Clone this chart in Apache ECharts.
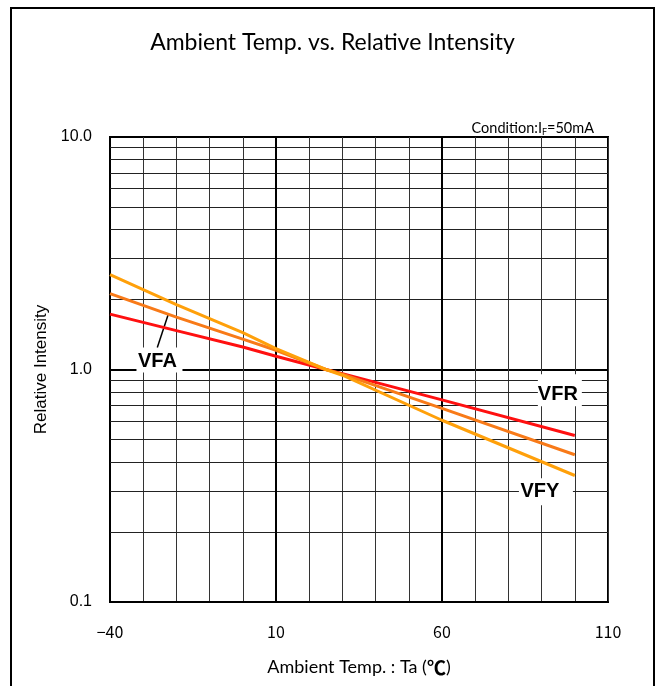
<!DOCTYPE html>
<html>
<head>
<meta charset="utf-8">
<script src="https://cdn.jsdelivr.net/npm/echarts@6/dist/echarts.min.js"></script>
<style>
  html, body { margin: 0; padding: 0; background: #fff; }
  #main { width: 665px; height: 686px; }
</style>
</head>
<body>
<div id="main"></div>
<script>
// temperatures (deg C)
var temps = [-40, -20, 0, 10, 25, 30, 60, 100];
var vfr = [1.73, 1.47, 1.25, 1.14, 1.0, 0.96, 0.74, 0.52]; // red
var vfa = [2.12, 1.68, 1.35, 1.21, 1.0, 0.955, 0.68, 0.43]; // orange
var vfy = [2.56, 1.90, 1.44, 1.23, 1.0, 0.945, 0.605, 0.35]; // yellow
// log grid lines between decades
var minorY = [0.2, 0.3, 0.4, 0.5, 0.6, 0.7, 0.8, 0.9, 2, 3, 4, 5, 6, 7, 8, 9];
var majorX = [10, 60];

function pairs(ys) {
  return temps.map(function (t, i) { return [t, ys[i]]; });
}

var chart = echarts.init(document.getElementById('main'));

var labelStyle = {
  show: true,
  position: 'inside',
  color: '#000',
  fontFamily: 'Liberation Sans',
  fontWeight: 'bold',
  fontSize: 20
};

var option = {
  backgroundColor: '#fff',
  animation: false,
  title: [{
    text: 'Ambient Temp. vs. Relative Intensity',
    left: 'center',
    top: 26,
    textStyle: { fontFamily: 'Lato', fontWeight: 'normal', fontSize: 23, color: '#000' }
  }, {
    text: '{a|Condition:I}{s|F}{a|=50mA}',
    right: 66,
    top: 114,
    textStyle: {
      fontWeight: 'normal',
      rich: {
        a: { fontFamily: 'Lato', fontSize: 14.5, fontWeight: 'normal', color: '#000' },
        s: { fontFamily: 'Lato', fontSize: 9, fontWeight: 'normal', color: '#000', verticalAlign: 'bottom', padding: [9, 0, 0, 0] }
      }
    }
  }],
  graphic: [{
    type: 'rect',
    shape: { x: 11, y: 8, width: 643, height: 700 },
    style: { fill: 'none', stroke: '#000', lineWidth: 2 },
    silent: true
  }],
  grid: {
    left: 110, right: 57, top: 137, bottom: 84,
    show: true, borderColor: '#000', borderWidth: 2
  },
  xAxis: {
    type: 'value',
    min: -40, max: 110, interval: 10,
    name: '{a|Ambient Temp. : Ta (}{b|℃}{a|)}',
    nameLocation: 'middle',
    nameGap: 56,
    nameTextStyle: {
      rich: {
        a: { fontFamily: 'Lato', fontSize: 18, color: '#000' },
        b: { fontFamily: 'Noto Sans CJK JP', fontWeight: 'bold', fontSize: 19, color: '#000' }
      }
    },
    axisLine: { onZero: false, lineStyle: { color: '#000', width: 2 } },
    axisTick: { show: false },
    axisLabel: {
      margin: 22,
      color: '#000',
      fontFamily: 'Noto Sans CJK JP',
      fontSize: 16,
      formatter: function (v) {
        return (v + 40) % 50 === 0 ? String(v).replace('-', '−') : '';
      }
    },
    splitLine: { show: true, lineStyle: { color: '#333', width: 1 } }
  },
  yAxis: {
    type: 'log',
    logBase: 10,
    min: 0.1, max: 10,
    name: 'Relative Intensity',
    nameLocation: 'middle',
    nameGap: 56,
    nameTextStyle: { fontFamily: 'Liberation Sans', fontSize: 17, color: '#000' },
    axisLine: { onZero: false, lineStyle: { color: '#000', width: 2 } },
    axisTick: { show: false },
    axisLabel: {
      margin: 18,
      color: '#000',
      fontFamily: 'Liberation Sans',
      fontSize: 16,
      formatter: function (v) { return v.toFixed(1); }
    },
    splitLine: { show: true, lineStyle: { color: '#000', width: 2 } }
  },
  series: [{
    name: 'grid',
    type: 'line',
    data: [],
    silent: true,
    z: 1,
    markLine: {
      silent: true,
      z: 1,
      symbol: 'none',
      label: { show: false },
      lineStyle: { color: '#222', width: 1, type: 'solid' },
      data: minorY.map(function (v) { return { yAxis: v }; }).concat(
        majorX.map(function (v) { return { xAxis: v, lineStyle: { color: '#000', width: 2 } }; }))
    }
  }, {
    name: 'VFR',
    type: 'line',
    data: pairs(vfr),
    showSymbol: false,
    z: 10,
    lineStyle: { color: '#ff1010', width: 3 },
    markPoint: {
      z: 8,
      symbol: 'rect',
      symbolSize: [44, 32],
      itemStyle: { color: '#fff' },
      label: Object.assign({ formatter: 'VFR', offset: [-2, 4] }, labelStyle),
      data: [{ coord: [95.5, 0.815] }]
    }
  }, {
    name: 'VFA',
    type: 'line',
    data: pairs(vfa),
    showSymbol: false,
    z: 10,
    lineStyle: { color: '#f87a18', width: 3 },
    markPoint: {
      z: 8,
      symbol: 'rect',
      symbolSize: [46, 25],
      itemStyle: { color: '#fff' },
      label: Object.assign({ formatter: 'VFA', offset: [-2, 2] }, labelStyle),
      data: [{ coord: [-25.1, 1.10] }]
    },
    markLine: {
      z: 9,
      silent: true,
      symbol: 'none',
      label: { show: false },
      lineStyle: { color: '#000', width: 1.5, type: 'solid' },
      data: [[{ coord: [-25.75, 1.243] }, { coord: [-22.44, 1.73] }]]
    }
  }, {
    name: 'VFY',
    type: 'line',
    data: pairs(vfy),
    showSymbol: false,
    z: 10,
    lineStyle: { color: '#ffa00a', width: 3 },
    markPoint: {
      z: 8,
      symbol: 'rect',
      symbolSize: [54, 27],
      itemStyle: { color: '#fff' },
      label: Object.assign({ formatter: 'VFY', offset: [-6, 0] }, labelStyle),
      data: [{ coord: [91.3, 0.298] }]
    }
  }]
};

chart.setOption(option);
</script>
</body>
</html>
